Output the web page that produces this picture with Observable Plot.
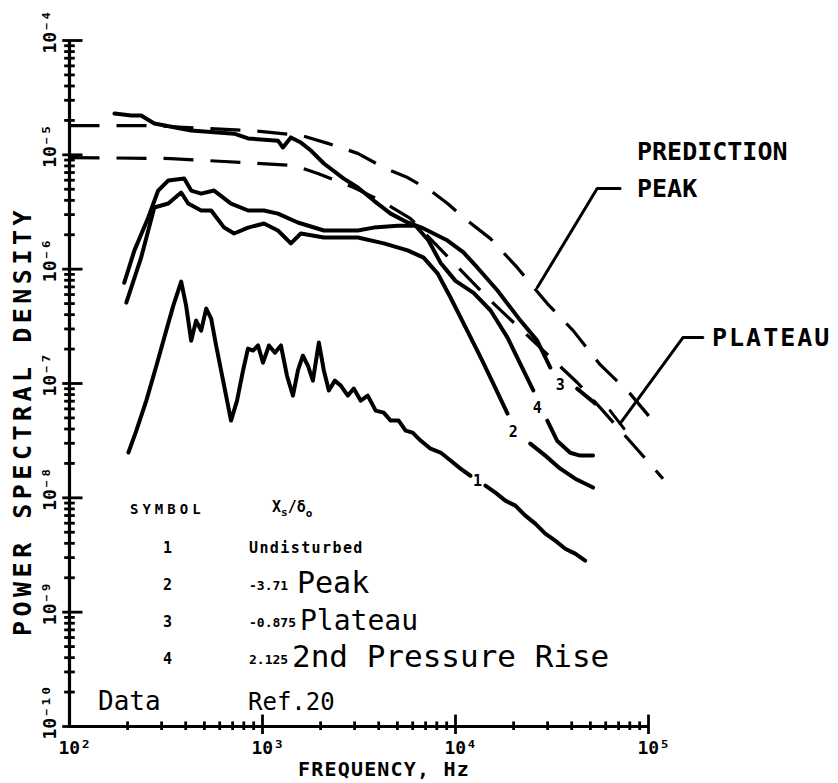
<!DOCTYPE html>
<html><head><meta charset="utf-8">
<script src="https://cdn.jsdelivr.net/npm/d3@7"></script>
<script src="https://cdn.jsdelivr.net/npm/@observablehq/plot@0.6"></script>
<style>
body{margin:0;background:#fff;}
#chart{width:838px;height:783px;}
</style></head><body><div id="chart"></div>
<script>
// ---------------- data (frequency in Hz, power spectral density) ----------------
// null marks the gap where a curve number is written
const curve1Freq = [202,222,250,282,317,345,379,402,427,453,481,511,542,575,625,687,738,793,841,893,948,1006,1080,1160,1246,1339,1438,1526,1619,1719,1824,1959,2079,2207,2370,2545,2767,2972,3228,3510,3860,4246,4615,5075,5516,5996,6594,7427,8366,9424,10613,11953,null,14289,16095,18130,20421,23002,25910,29183,32869,37023,41703,46970];
const curve1Psd  = [2.49e-8,3.87e-8,7.08e-8,1.43e-7,2.90e-7,4.80e-7,7.79e-7,4.80e-7,2.37e-7,3.55e-7,2.90e-7,4.52e-7,3.70e-7,2.15e-7,1.06e-7,4.74e-8,7.08e-8,1.30e-7,2.02e-7,1.94e-7,2.15e-7,1.52e-7,2.15e-7,1.86e-7,2.15e-7,1.17e-7,7.83e-8,1.30e-7,1.75e-7,1.43e-7,1.06e-7,2.28e-7,1.30e-7,8.67e-8,1.06e-7,9.58e-8,7.83e-8,9.03e-8,7.08e-8,7.83e-8,5.79e-8,5.56e-8,4.74e-8,4.74e-8,3.87e-8,3.72e-8,3.17e-8,2.69e-8,2.49e-8,2.12e-8,1.80e-8,1.56e-8,null,1.28e-8,1.11e-8,9.45e-9,8.55e-9,6.99e-9,5.95e-9,4.86e-9,4.22e-9,3.59e-9,3.25e-9,2.82e-9];

const curve2Freq = [197,235,275,325,379,412,481,542,633,713,842,1018,1202,1403,1581,2080,3118,4250,5646,6833,8070,9420,11500,13500,15700,18600,null,24400,29200,34900,41700,51600];
const curve2Psd  = [5.1e-7,1.26e-6,3.46e-6,3.75e-6,4.68e-6,3.75e-6,3.26e-6,3.26e-6,2.31e-6,2.05e-6,2.31e-6,2.51e-6,2.18e-6,1.68e-6,2.05e-6,1.89e-6,1.89e-6,1.68e-6,1.46e-6,1.26e-6,9.2e-7,5.65e-7,2.90e-7,1.69e-7,9.98e-8,5.46e-8,null,2.98e-8,2.34e-8,1.80e-8,1.47e-8,1.23e-8];

const curve3Freq = [171,209,235,275,427,713,842,1202,1276,1403,1581,1782,2080,2637,3118,3770,4613,5646,6833,9095,11000,13000,16500,21700,26500,31000,null,42700,52900];
const curve3Psd  = [2.30e-5,2.21e-5,2.21e-5,1.88e-5,1.63e-5,1.53e-5,1.39e-5,1.33e-5,1.16e-5,1.42e-5,1.28e-5,1.09e-5,8.4e-6,6.2e-6,5.18e-6,3.98e-6,3.06e-6,2.56e-6,2.27e-6,1.78e-6,1.40e-6,1.03e-6,6.5e-7,3.55e-7,2.37e-7,1.38e-7,null,9.0e-8,6.7e-8];

const curve4Freq = [192,217,256,288,325,393,427,481,561,687,842,1018,1202,1524,2080,3118,3770,5012,6210,7250,8360,10000,12400,15200,18600,22500,25300,null,29900,33600,39300,44200,51600];
const curve4Psd  = [7.6e-7,1.46e-6,2.83e-6,4.87e-6,5.96e-6,6.2e-6,4.87e-6,4.58e-6,4.87e-6,3.75e-6,3.26e-6,3.26e-6,3.06e-6,2.56e-6,2.18e-6,2.18e-6,2.31e-6,2.40e-6,2.40e-6,1.78e-6,1.14e-6,7.9e-7,6.2e-7,4.35e-7,2.52e-7,1.30e-7,8.7e-8,null,4.73e-8,3.16e-8,2.48e-8,2.34e-8,2.34e-8];

// prediction curves (dashed)
const predPeakFreq = [100,265,872,1581,2180,3115,4246,5647,7427,9094,11000,15170,20920,29890,40720,56160,80230,110640];
const predPeakPsd  = [1.80e-5,1.80e-5,1.63e-5,1.48e-5,1.26e-5,1.03e-5,7.74e-6,6.33e-6,4.87e-6,3.75e-6,2.83e-6,1.85e-6,1.03e-6,5.00e-7,2.90e-7,1.46e-7,8.16e-8,4.28e-8];
const predPlateauFreq = [100,336,632,1455,1936,2972,4097,5852,15170,42710,56160,90360,118850];
const predPlateauPsd  = [9.47e-6,9.28e-6,8.74e-6,8.06e-6,6.86e-6,5.17e-6,3.98e-6,2.77e-6,5.31e-7,1.02e-7,6.15e-8,2.49e-8,1.47e-8];

// curve number labels
const curveLabelText = ["1","2","4","3"];
const curveLabelFreq = [13000,19940,26530,34880];
const curveLabelPsd  = [1.41e-8,3.72e-8,6.03e-8,9.58e-8];

// leader lines for the prediction labels
const peakLeaderFreq = [26530,54200,71250];
const peakLeaderPsd  = [6.9e-7,5.07e-6,5.07e-6];
const plateauLeaderFreq = [71250,150800,191300];
const plateauLeaderPsd  = [4.46e-8,2.52e-7,2.52e-7];
const plateauTickFreq = [63240,74660];
const plateauTickPsd  = [5.79e-8,4.03e-8];

// axes
const xTickValues = [1e2,1e3,1e4,1e5];
const xTickLabels = ["10²","10³","10⁴","10⁵"];
const yTickValues = [1e-4,1e-5,1e-6,1e-7,1e-8,1e-9,1e-10];
const yTickLabels = ["10⁻⁴","10⁻⁵","10⁻⁶","10⁻⁷","10⁻⁸","10⁻⁹","10⁻¹⁰"];
const minorMultipliers = [2,3,4,5,6,7,8,9];

// legend
const legendSymbols = ["1","2","3","4"];
const legendValues  = ["Undisturbed","-3.71","-0.875","2.125"];
const legendNotes   = ["","Peak","Plateau","2nd Pressure Rise"];

// ---------------- build ----------------
const toRows = (name, fs, ps) => fs.map((f, i) => ({series: name, f, p: ps[i]}));
const measured = [
  ...toRows("1", curve1Freq, curve1Psd),
  ...toRows("2", curve2Freq, curve2Psd),
  ...toRows("3", curve3Freq, curve3Psd),
  ...toRows("4", curve4Freq, curve4Psd)
];
const predictions = [
  ...toRows("peak", predPeakFreq, predPeakPsd),
  ...toRows("plateau", predPlateauFreq, predPlateauPsd)
];
const leaders = [
  ...toRows("peak", peakLeaderFreq, peakLeaderPsd),
  ...toRows("plateau", plateauLeaderFreq, plateauLeaderPsd),
  ...toRows("tick", plateauTickFreq, plateauTickPsd)
];
const curveLabels = curveLabelText.map((t, i) => ({t, f: curveLabelFreq[i], p: curveLabelPsd[i]}));

const xDecades = xTickValues.slice(0, -1);
const yDecades = yTickValues.slice(1).reverse();
const xMinor = xDecades.flatMap(d => minorMultipliers.map(m => m * d));
const yMinor = yDecades.flatMap(d => minorMultipliers.map(m => m * d));
const xAxisAt = yTickValues[yTickValues.length - 1];
const yAxisAt = xTickValues[0];
const off = (v, e) => v * Math.pow(10, e);

const bold = "DejaVu Sans Mono";

const chart = Plot.plot({
  width: 838, height: 783,
  marginLeft: 69, marginRight: 190, marginTop: 40, marginBottom: 57,
  x: {type: "log", domain: [1e2, 1e5], axis: null},
  y: {type: "log", domain: [1e-10, 1e-4], axis: null},
  style: {background: "white", overflow: "visible"},
  marks: [
    // axes lines
    Plot.ruleY([xAxisAt], {x1: xTickValues[0], x2: xTickValues[3], strokeWidth: 3.2, stroke: "black"}),
    Plot.ruleX([yAxisAt], {y1: yTickValues[6], y2: yTickValues[0], strokeWidth: 3.2, stroke: "black"}),
    // x ticks
    Plot.ruleX(xMinor, {y1: off(xAxisAt, -0.035), y2: off(xAxisAt, 0.04), strokeWidth: 2.8, stroke: "black"}),
    Plot.ruleX(xTickValues.slice(1), {y1: off(xAxisAt, -0.07), y2: off(xAxisAt, 0.1), strokeWidth: 2.8, stroke: "black"}),
    // y ticks
    Plot.ruleY(yMinor, {x1: off(yAxisAt, -0.025), x2: off(yAxisAt, 0.03), strokeWidth: 2.8, stroke: "black"}),
    Plot.ruleY(yTickValues, {x1: off(yAxisAt, -0.035), x2: off(yAxisAt, 0.07), strokeWidth: 2.8, stroke: "black"}),
    // tick labels
    Plot.text(xTickValues, {x: d => d, y: () => xAxisAt, text: (d, i) => xTickLabels[i], dy: 22, dx: -11, textAnchor: "start",
      fontFamily: bold, fontWeight: "bold", fontSize: 18, fill: "black"}),
    Plot.text(yTickValues, {x: () => yAxisAt, y: d => d, text: (d, i) => yTickLabels[i], rotate: -90, dx: -14, dy: 13,
      textAnchor: "start", lineAnchor: "bottom", fontFamily: bold, fontWeight: "bold", fontSize: 18, fill: "black"}),
    // prediction curves
    Plot.line(predictions, {x: "f", y: "p", z: "series", stroke: "black", strokeWidth: 3.2, strokeDasharray: "30,17", strokeLinecap: "butt"}),
    // measured spectra
    Plot.line(measured, {x: "f", y: "p", z: "series", stroke: "black", strokeWidth: 4}),
    // leaders
    Plot.line(leaders, {x: "f", y: "p", z: "series", stroke: "black", strokeWidth: 3, curve: "linear"}),
    // curve numbers
    Plot.text(curveLabels, {x: "f", y: "p", text: "t", fontFamily: bold, fontWeight: "bold", fontSize: 15, fill: "black"})
  ]
});
document.getElementById("chart").appendChild(chart);

// ---------------- annotation text ----------------
const svg = d3.select(chart);
function txt(x, y, s, o = {}) {
  const t = svg.append("text").attr("x", x).attr("y", y).text(s)
    .attr("font-family", o.family || bold)
    .attr("font-weight", o.weight || "bold")
    .attr("font-size", o.size || 16)
    .attr("text-anchor", o.anchor || "start")
    .attr("fill", "black");
  if (o.spacing) t.attr("letter-spacing", o.spacing);
  if (o.transform) t.attr("transform", o.transform);
  return t;
}
// axis titles
txt(0, 0, "POWER SPECTRAL DENSITY", {size: 25, spacing: 4.5, anchor: "middle", transform: "translate(31,421) rotate(-90)"});
txt(384, 776, "FREQUENCY, Hz", {size: 20, spacing: 1.2, anchor: "middle"});
// prediction labels
txt(637, 160, "PREDICTION", {size: 25});
txt(637, 197, "PEAK", {size: 25});
txt(712, 346, "PLATEAU", {size: 25, spacing: 2});
// legend
txt(130, 514, "SYMBOL", {size: 14, spacing: 4});
const xs = txt(272, 512, "X", {size: 15});
xs.append("tspan").attr("dy", 4).attr("font-size", 11).text("s");
xs.append("tspan").attr("dy", -4).text("/δ");
xs.append("tspan").attr("dy", 5).attr("font-size", 11).text("o");
const rowY = [553, 590, 627, 664];
legendSymbols.forEach((s, i) => {
  txt(163, rowY[i], s, {size: 15});
  txt(249, rowY[i], legendValues[i], {size: i === 0 ? 15 : 13, spacing: i === 0 ? 1.4 : 0});
});
const noteX = [0, 297, 300, 292];
const noteSize = [0, 30, 28, 31];
legendNotes.forEach((s, i) => {
  if (s) txt(noteX[i], rowY[i] + 3, s, {size: noteSize[i], weight: "normal"});
});
txt(98, 710, "Data", {size: 26, weight: "normal"});
txt(248, 710, "Ref.20", {size: 24, weight: "normal"});
</script>
</body></html>
